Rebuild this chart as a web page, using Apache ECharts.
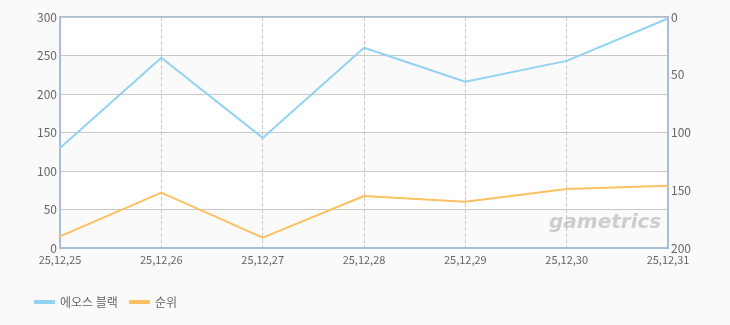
<!DOCTYPE html>
<html><head><meta charset="utf-8">
<script src="https://cdn.jsdelivr.net/npm/echarts@6/dist/echarts.min.js"></script>
<style>html,body{margin:0;padding:0;background:#fafafa;}#c{width:730px;height:325px;}</style>
</head><body><div id="c"></div>
<script>
const categories = ['25,12,25','25,12,26','25,12,27','25,12,28','25,12,29','25,12,30','25,12,31'];
const seriesNames = ['에오스 블랙','순위'];
const usersValues = [130, 247, 143, 260, 216, 243, 298];
const rankValues = [190, 152, 191, 155, 160, 149, 146];

const chart = echarts.init(document.getElementById('c'));
const font = 'Noto Sans CJK KR';
const border = {show: true, lineStyle: {color: '#a9bed6', width: 2}};
chart.setOption({
  backgroundColor: '#fafafa',
  animation: false,
  textStyle: {fontFamily: font},
  grid: {left: 60, right: 62, top: 17, bottom: 77, show: true, borderColor: '#a9bed6', borderWidth: 2, backgroundColor: '#ffffff', z: 0},
  legend: {
    left: 29, top: 291, itemWidth: 21, itemHeight: 4, itemGap: 11,
    icon: 'rect',
    textStyle: {color: '#666', fontSize: 12, fontFamily: font},
    data: seriesNames
  },
  graphic: [{
    type: 'text', left: 549, top: 213, z: 100, silent: true,
    style: {text: 'gametrics', fill: 'rgba(175,175,175,0.6)', fontSize: 20, fontStyle: 'italic', fontWeight: 'bold', fontFamily: 'DejaVu Sans'}
  }],
  xAxis: {
    type: 'category', data: categories, boundaryGap: false,
    axisLine: border,
    axisTick: {show: false},
    axisLabel: {color: '#666', fontSize: 11, margin: 6, fontFamily: font, showMinLabel: true, showMaxLabel: true, interval: 0},
    splitLine: {show: true, lineStyle: {color: '#c8c8c8', type: 'dashed'}}
  },
  yAxis: [{
    type: 'value', min: 0, max: 300, interval: 50,
    axisLine: border, axisTick: {show: false},
    axisLabel: {color: '#666', fontSize: 12, margin: 3, fontFamily: font},
    splitLine: {lineStyle: {color: '#c8c8c8'}},
    splitArea: {show: true, areaStyle: {color: ['#fafafa', '#ffffff']}}
  }, {
    type: 'value', min: 0, max: 200, interval: 50, inverse: true,
    axisLine: border, axisTick: {show: false},
    axisLabel: {color: '#666', fontSize: 12, margin: 3, fontFamily: font},
    splitLine: {show: false}
  }],
  series: [{
    name: seriesNames[0], type: 'line', data: usersValues, yAxisIndex: 0,
    symbol: 'none', lineStyle: {color: '#92d2f2', width: 2}, itemStyle: {color: '#92d2f2'}
  }, {
    name: seriesNames[1], type: 'line', data: rankValues, yAxisIndex: 1,
    symbol: 'none', lineStyle: {color: '#fec060', width: 2}, itemStyle: {color: '#fec060'}
  }]
});
</script></body></html>
